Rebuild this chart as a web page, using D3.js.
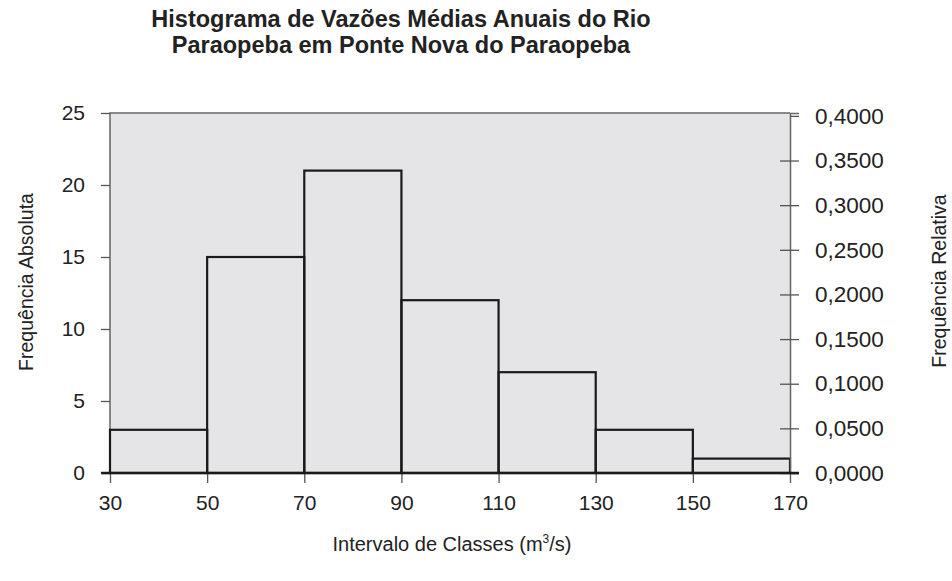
<!DOCTYPE html>
<meta charset="utf-8">
<head>
<style>
  body { margin: 0; background: #fff; }
  svg { display: block; font-family: "Liberation Sans", Arial, sans-serif; }
  .tick text { font-size: 21px; fill: #222; }
  .rel .tick text { font-size: 22.5px; }
</style>
</head>
<body>
<script src="https://cdnjs.cloudflare.com/ajax/libs/d3/7.8.5/d3.min.js"></script>
<script>

// class intervals (m3/s) and absolute frequencies
const classStarts = [30, 50, 70, 90, 110, 130, 150];
const classEnds   = [50, 70, 90, 110, 130, 150, 170];
const counts      = [3, 15, 21, 12, 7, 3, 1];
const xTicks      = [30, 50, 70, 90, 110, 130, 150, 170];
const yTicks      = [0, 5, 10, 15, 20, 25];
const relTicks    = [0, 0.05, 0.1, 0.15, 0.2, 0.25, 0.3, 0.35, 0.4];
const titleLines  = ["Histograma de Vazões Médias Anuais do Rio", "Paraopeba em Ponte Nova do Paraopeba"];

const W = 952, H = 581;
const margin = {top: 113, right: 162, bottom: 108, left: 110},
    width = W - margin.left - margin.right,
    height = H - margin.top - margin.bottom;

const total = d3.sum(counts);

const x = d3.scaleLinear().domain([30, 170]).range([0, width]);
const y = d3.scaleLinear().domain([0, 25]).range([height, 0]);
// relative frequency axis shares the same heights: count / total
const yRel = d3.scaleLinear().domain([0, 25 / total]).range([height, 0]);

const svg = d3.select("body").append("svg")
  .attr("width", W)
  .attr("height", H);

const g = svg.append("g")
  .attr("transform", "translate(" + margin.left + "," + margin.top + ")");

// plot background
g.append("rect")
  .attr("width", width)
  .attr("height", height)
  .attr("fill", "#e5e5e7");

// top and left frame
g.append("path")
  .attr("d", `M0,${height}V0H${width}`)
  .attr("fill", "none")
  .attr("stroke", "#666")
  .attr("stroke-width", 1.5);

// bars
const bins = classStarts.map((s, i) => ({x0: s, x1: classEnds[i], n: counts[i]}));
g.append("g").selectAll("rect")
  .data(bins)
  .join("rect")
    .attr("x", d => x(d.x0))
    .attr("y", d => y(d.n))
    .attr("width", d => x(d.x1) - x(d.x0))
    .attr("height", d => height - y(d.n))
    .attr("fill", "none")
    .attr("stroke", "#1a1a1a")
    .attr("stroke-width", 2.2);

// left axis
const yAxis = g.append("g")
  .call(d3.axisLeft(y).tickValues(yTicks).tickSize(9).tickPadding(16));
yAxis.select(".domain").remove();
yAxis.selectAll(".tick line").attr("stroke", "#555").attr("stroke-width", 1.3);

// right axis
const rAxis = g.append("g")
  .attr("class", "rel")
  .attr("transform", "translate(" + width + ",0)")
  .call(d3.axisRight(yRel).tickValues(relTicks).tickSize(9).tickPadding(16)
    .tickFormat(d => d3.format(".4f")(d).replace(".", ",")));
rAxis.select(".domain").attr("stroke", "#666").attr("stroke-width", 1.5);
rAxis.selectAll(".tick line")
  .attr("x1", d => d === 0.4 ? 0 : -10)
  .attr("stroke", "#555").attr("stroke-width", 1.3);

// bottom axis
const xAxis = g.append("g")
  .attr("transform", "translate(0," + height + ")")
  .call(d3.axisBottom(x).tickValues(xTicks).tickSize(10).tickPadding(12));
xAxis.select(".domain").remove();
xAxis.selectAll(".tick line").attr("stroke", "#555").attr("stroke-width", 1.3);

g.append("line")
  .attr("x1", -9).attr("x2", width + 9)
  .attr("y1", height).attr("y2", height)
  .attr("stroke", "#1a1a1a")
  .attr("stroke-width", 2.4);

// title
svg.append("text")
  .attr("x", 401)
  .attr("text-anchor", "middle")
  .style("font-weight", "bold")
  .style("font-size", "23.5px")
  .attr("fill", "#222")
  .selectAll("tspan")
  .data(titleLines)
  .join("tspan")
    .attr("x", 401)
    .attr("y", (d, i) => 27 + i * 26)
    .text(d => d);

// axis labels
svg.append("text")
  .attr("transform", "translate(33,282) rotate(-90)")
  .attr("text-anchor", "middle")
  .style("font-size", "19.5px")
  .attr("fill", "#222")
  .text("Frequência Absoluta");

svg.append("text")
  .attr("transform", "translate(946,281) rotate(-90)")
  .attr("text-anchor", "middle")
  .style("font-size", "19.5px")
  .attr("fill", "#222")
  .text("Frequência Relativa");

const xl = svg.append("text")
  .attr("x", 452)
  .attr("y", 551)
  .attr("text-anchor", "middle")
  .style("font-size", "20px")
  .attr("fill", "#222");
xl.append("tspan").text("Intervalo de Classes (m");
xl.append("tspan").attr("dy", -8).style("font-size", "12px").text("3");
xl.append("tspan").attr("dy", 8).text("/s)");

</script>
</body>
